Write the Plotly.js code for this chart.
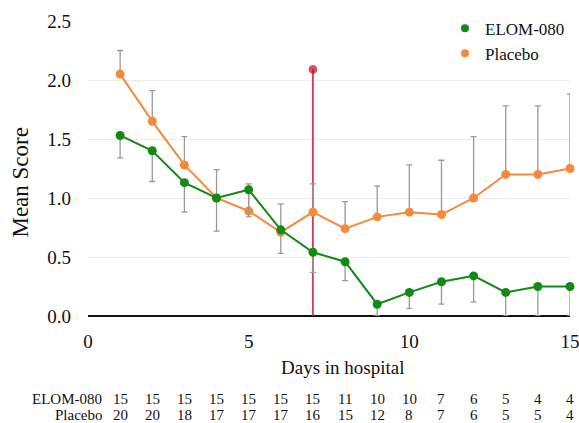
<!DOCTYPE html>
<html>
<head>
<meta charset="utf-8">
<script src="https://cdn.plot.ly/plotly-3.0.1.min.js"></script>
<style>html,body{margin:0;padding:0;background:#fff;}#chart{width:579px;height:423px;}</style>
</head>
<body>
<div id="chart"></div>
<script>
var days = [1,2,3,4,5,6,7,8,9,10,11,12,13,14,15];
var elomMean = [1.53,1.40,1.13,1.00,1.07,0.73,0.54,0.46,0.10,0.20,0.29,0.34,0.20,0.25,0.25];
var elomErrMinus = [0.19,0.26,0.25,0.28,0.23,0.20,0.17,0.16,0.10,0.135,0.19,0.22,0.20,0.25,0.25];
var placeboMean = [2.05,1.65,1.28,1.00,0.89,0.71,0.88,0.74,0.84,0.88,0.86,1.00,1.20,1.20,1.25];
var placeboErrPlus = [0.20,0.26,0.24,0.24,0.23,0.24,0.24,0.23,0.26,0.40,0.46,0.52,0.58,0.58,0.63];
var elomN = [15,15,15,15,15,15,15,11,10,10,7,6,5,4,4];
var placeboN = [20,20,18,17,17,17,16,15,12,8,7,6,5,5,4];
var markerDay = [7,7];
var markerLevel = [0,2.09];
var seriesNames = ['ELOM-080','Placebo'];
var xTitle = 'Days in hospital';
var yTitle = 'Mean Score';

var FONT = 'Liberation Serif';
var GREEN = '#138a13';
var ORANGE = '#f58a3a';
var RED = '#d0103a';

var traces = [
  {x: markerDay, y: markerLevel, mode:'lines+markers', showlegend:false, hoverinfo:'skip',
   line:{color:RED, width:1.5}, marker:{color:'#d00010', size:[0,8]}, cliponaxis:false},
  {x: days, y: placeboMean, mode:'lines+markers', showlegend:false,
   line:{color:ORANGE, width:2}, marker:{color:ORANGE, size:9}, cliponaxis:false,
   error_y:{type:'data', symmetric:false, array:placeboErrPlus, arrayminus:placeboMean.map(function(){return 0;}), color:'#9a9a9a', thickness:1.3, width:3}},
  {x: days, y: elomMean, mode:'lines+markers', showlegend:false,
   line:{color:GREEN, width:2}, marker:{color:GREEN, size:9}, cliponaxis:false,
   error_y:{type:'data', symmetric:false, array:elomMean.map(function(){return 0;}), arrayminus:elomErrMinus, color:'#9a9a9a', thickness:1.3, width:3}},
  {x:[null], y:[null], mode:'markers', name:seriesNames[0], marker:{color:GREEN, size:8}},
  {x:[null], y:[null], mode:'markers', name:seriesNames[1], marker:{color:ORANGE, size:8}}
];

var annotations = [
  {xref:'paper', yref:'paper', x:0.53, y:-0.173, xanchor:'center', yanchor:'middle', showarrow:false,
   text:xTitle, font:{family:FONT, size:19, color:'#111'}},
  {xref:'paper', yref:'paper', x:-0.141, y:0.4525, xanchor:'center', yanchor:'middle', showarrow:false,
   textangle:-90, text:yTitle, font:{family:FONT, size:23, color:'#111'}}
];
function addRow(label, vals, yp){
  annotations.push({xref:'paper', yref:'paper', x:0.034, y:yp, xanchor:'right', yanchor:'middle',
    text:label, showarrow:false, font:{family:FONT, size:15, color:'#111'}});
  vals.forEach(function(v,i){
    annotations.push({xref:'x', yref:'paper', x:days[i], y:yp, xanchor:'center', yanchor:'middle',
      text:String(v), showarrow:false, font:{family:FONT, size:15, color:'#111'}});
  });
}
addRow(seriesNames[0], elomN, -0.28);
addRow(seriesNames[1], placeboN, -0.335);

var layout = {
  width:579, height:423,
  margin:{l:88, r:9, t:21, b:107, autoexpand:false},
  paper_bgcolor:'#fff', plot_bgcolor:'#fff',
  font:{family:FONT, color:'#111'},
  showlegend:true,
  legend:{x:1.0, y:1.035, xanchor:'right', yanchor:'top', bgcolor:'rgba(0,0,0,0)',
    font:{family:FONT, size:17, color:'#111'}, itemwidth:30, tracegroupgap:0},
  xaxis:{range:[0,15], tickvals:[0,5,10,15], showgrid:false, zeroline:false,
    showline:false, ticks:'', ticklabelstandoff:12, ticklabeloverflow:'allow',
    tickfont:{family:FONT, size:19, color:'#111'}},
  yaxis:{range:[0,2.5], tickvals:[0,0.5,1,1.5,2,2.5], ticktext:['0.0','0.5','1.0','1.5','2.0','2.5'],
    showgrid:true, gridcolor:'#ececec', gridwidth:1, zeroline:true, zerolinecolor:'#111', zerolinewidth:2,
    showline:false, ticks:'', ticklabelstandoff:16,
    tickfont:{family:FONT, size:19, color:'#111'}},
  annotations: annotations
};

Plotly.newPlot('chart', traces, layout, {displayModeBar:false, staticPlot:true});
</script>
</body>
</html>
